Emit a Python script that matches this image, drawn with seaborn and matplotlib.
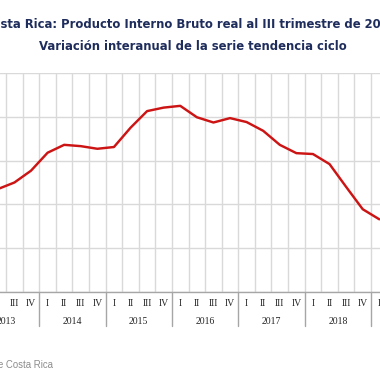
import matplotlib
matplotlib.use("Agg")
import matplotlib.pyplot as plt
import matplotlib.transforms as mtransforms
import seaborn as sns
import pandas as pd

# ---- data ----
years = [2013, 2014, 2015, 2016, 2017, 2018, 2019]
quarter_labels = ["I", "II", "III", "IV"]
# series starts at 2013 quarter II
start_year = 2013
start_quarter = 2
values = [2.35, 2.50, 2.77,
          3.18, 3.36, 3.33, 3.27,
          3.31, 3.75, 4.13, 4.21,
          4.25, 3.99, 3.87, 3.97,
          3.88, 3.68, 3.36, 3.17,
          3.15, 2.92, 2.40, 1.89,
          1.66]
title_1 = "Costa Rica: Producto Interno Bruto real al III trimestre de 2019"
title_2 = "Variación interanual de la serie tendencia ciclo"
source = "Fuente: Banco Central de Costa Rica"

# ---- build frame ----
rows = []
for k, v in enumerate(values):
    q_index = (start_year - years[0]) * 4 + (start_quarter - 1) + k
    rows.append({"pos": q_index + 0.5, "value": v})
df = pd.DataFrame(rows)

sns.set_theme(style="white")
plt.rcParams["font.family"] = ["DejaVu Sans"]

W = H = 380
fig = plt.figure(figsize=(3.8, 3.8), dpi=100)
fig.patch.set_facecolor("white")

# plot area in pixels (it extends past the figure edges, as in the crop)
px_per_q = 16.585
left_px = 39.3 - 4 * px_per_q
n_q = len(years) * 4
top_px, bottom_px = 73, 292
ax = fig.add_axes([left_px / W, (H - bottom_px) / H,
                   n_q * px_per_q / W, (bottom_px - top_px) / H])

grid_c = "#D9D9D9"
axis_c = "#A6A6A6"
ax.set_xlim(0, n_q)
ax.set_ylim(0, 5)
for yv in range(0, 6):
    ax.axhline(yv, color=grid_c, lw=1.0, zorder=0)
for xv in range(0, n_q + 1):
    ax.axvline(xv, color=grid_c, lw=1.0, zorder=0)

sns.lineplot(data=df, x="pos", y="value", ax=ax, color="#CC1414",
             lw=1.75, zorder=3)

for s in ["top", "left", "right"]:
    ax.spines[s].set_visible(False)
ax.spines["bottom"].set_color(axis_c)
ax.spines["bottom"].set_linewidth(1.0)
ax.set_xticks([])
ax.set_yticks([])
ax.set_xlabel("")
ax.set_ylabel("")

trans = mtransforms.blended_transform_factory(ax.transData, ax.transAxes)
h_ax = bottom_px - top_px
q_y = -(303.5 - bottom_px) / h_ax
y_y = -(321 - bottom_px) / h_ax
sep_y = -(326 - bottom_px) / h_ax
serif = "Liberation Serif"
for yi, yr in enumerate(years):
    for qi, ql in enumerate(quarter_labels):
        ax.text(yi * 4 + qi + 0.5, q_y, ql, transform=trans, ha="center",
                va="center", fontsize=7, family=serif, color="#262626")
    ax.text(yi * 4 + 2, y_y, str(yr), transform=trans, ha="center",
            va="center", fontsize=7, family=serif, color="#262626")
for yi in range(len(years) + 1):
    ax.plot([yi * 4, yi * 4], [0, sep_y], transform=trans, color=axis_c,
            lw=1.0, clip_on=False)

navy = "#1F2D5C"
fig.text(190 / W, 1 - 24 / H, title_1, ha="center", va="center",
         fontsize=8.4, fontweight="bold", color=navy)
fig.text(192.8 / W, 1 - 46.7 / H, title_2, ha="center", va="center",
         fontsize=8.4, fontweight="bold", color=navy)
fig.text(53 / W, 1 - 365 / H, source, ha="right", va="center",
         fontsize=6.9, color="#8C8C8C", family="Liberation Sans")

fig.savefig("out.png", dpi=100, facecolor="white")
